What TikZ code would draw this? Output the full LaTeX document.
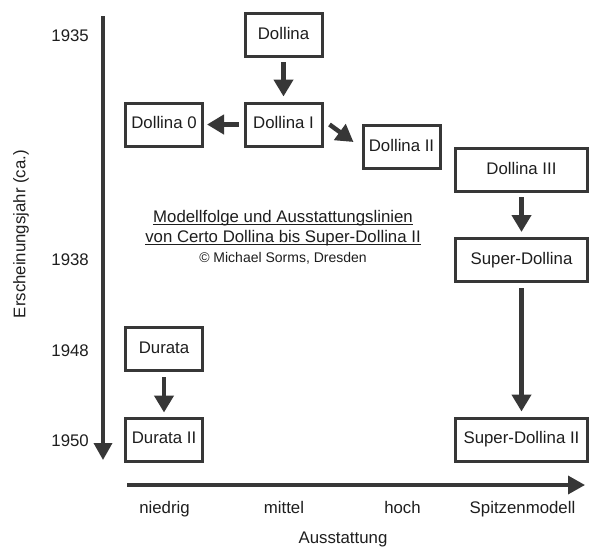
\documentclass[tikz,border=0pt]{standalone}
\usepackage{fontspec}
\setmainfont{Liberation Sans}
\usetikzlibrary{arrows.meta,calc}
\definecolor{linecol}{RGB}{55,55,55}
\definecolor{textcol}{RGB}{30,30,30}
\tikzset{
  modelbox/.style={draw=linecol, line width=3pt, fill=white, minimum width=77pt, minimum height=43pt,
    inner sep=0pt, text=textcol, font=\fontsize{16.8pt}{20pt}\selectfont, text height=12pt, text depth=3.5pt},
  widebox/.style={modelbox, minimum width=132pt},
  arr/.style={draw=linecol, line width=4.5pt, -{Triangle[width=19pt,length=17pt]}},
  axisarr/.style={draw=linecol, line width=3.5pt, -{Triangle[width=18pt,length=17pt]}},
  lbl/.style={text=textcol, font=\fontsize{16.8pt}{20pt}\selectfont, inner sep=0pt},
  smalllbl/.style={text=textcol, font=\fontsize{14pt}{17pt}\selectfont, inner sep=0pt},
  uline/.style={draw=textcol, line width=1.2pt},
}
\begin{document}
\begin{tikzpicture}[x=1pt,y=-1pt]
\useasboundingbox[fill=white] (0,0) rectangle (600,555);

% axes
\coordinate (vtop) at (103,16);
\coordinate (vbot) at (103,460);
\coordinate (hleft) at (127,485);
\coordinate (hright) at (585,485);
\draw[axisarr] (vtop) -- (vbot);
\draw[axisarr] (hleft) -- (hright);

% year labels
\node[lbl, anchor=base east] (y1935) at (89,41) {1935};
\node[lbl, anchor=base east] (y1938) at (89,265.5) {1938};
\node[lbl, anchor=base east] (y1948) at (89,356) {1948};
\node[lbl, anchor=base east] (y1950) at (89,446.5) {1950};
\node[lbl, rotate=90, text height=12pt, text depth=3.5pt] (ylabel) at (21,234) {Erscheinungsjahr (ca.)};

% x labels
\node[lbl, anchor=base] (xniedrig) at (164.5,513) {niedrig};
\node[lbl, anchor=base] (xmittel) at (284,513) {mittel};
\node[lbl, anchor=base] (xhoch) at (402.5,513) {hoch};
\node[lbl, anchor=base] (xspitze) at (522.5,513) {Spitzenmodell};
\node[lbl, anchor=base] (xlabel) at (343,543) {Ausstattung};

% title
\node[lbl, anchor=base] (t1) at (283,222) {Modellfolge und Ausstattungslinien};
\node[lbl, anchor=base] (t2) at (283,242) {von Certo Dollina bis Super-Dollina II};
\node[smalllbl, anchor=base] (t3) at (283,262) {© Michael Sorms, Dresden};
\draw[uline] ($(t1.base west)+(0,2.6)$) -- ($(t1.base east)+(0,2.6)$);
\draw[uline] ($(t2.base west)+(0,2.6)$) -- ($(t2.base east)+(0,2.6)$);

% boxes
\node[modelbox] (d) at (283.5,35) {Dollina};
\node[modelbox] (d1) at (283.5,124.5) {Dollina I};
\node[modelbox] (d0) at (164,124.5) {Dollina 0};
\node[modelbox] (d2) at (401.5,147) {Dollina II};
\node[widebox] (d3) at (521.5,170) {Dollina III};
\node[widebox] (sd) at (521.5,260) {Super-Dollina};
\node[widebox] (sd2) at (521.5,439.5) {Super-Dollina II};
\node[modelbox] (du) at (164,349) {Durata};
\node[modelbox] (du2) at (164,439.5) {Durata II};

% connectors
\draw[arr, shorten <=4pt, shorten >=5pt] (d) -- (d1);
\draw[arr, shorten <=5pt, shorten >=3pt] (d1) -- (d0);
\draw[arr] ($(d1.east)+(6,0)$) -- ($(d2.west)+(-8,-5)$);
\draw[arr, shorten <=4pt, shorten >=5pt] (d3) -- (sd);
\draw[arr, shorten <=5pt, shorten >=5pt] (sd) -- (sd2);
\draw[arr, shorten <=5pt, shorten >=4pt] (du) -- (du2);
\end{tikzpicture}
\end{document}
